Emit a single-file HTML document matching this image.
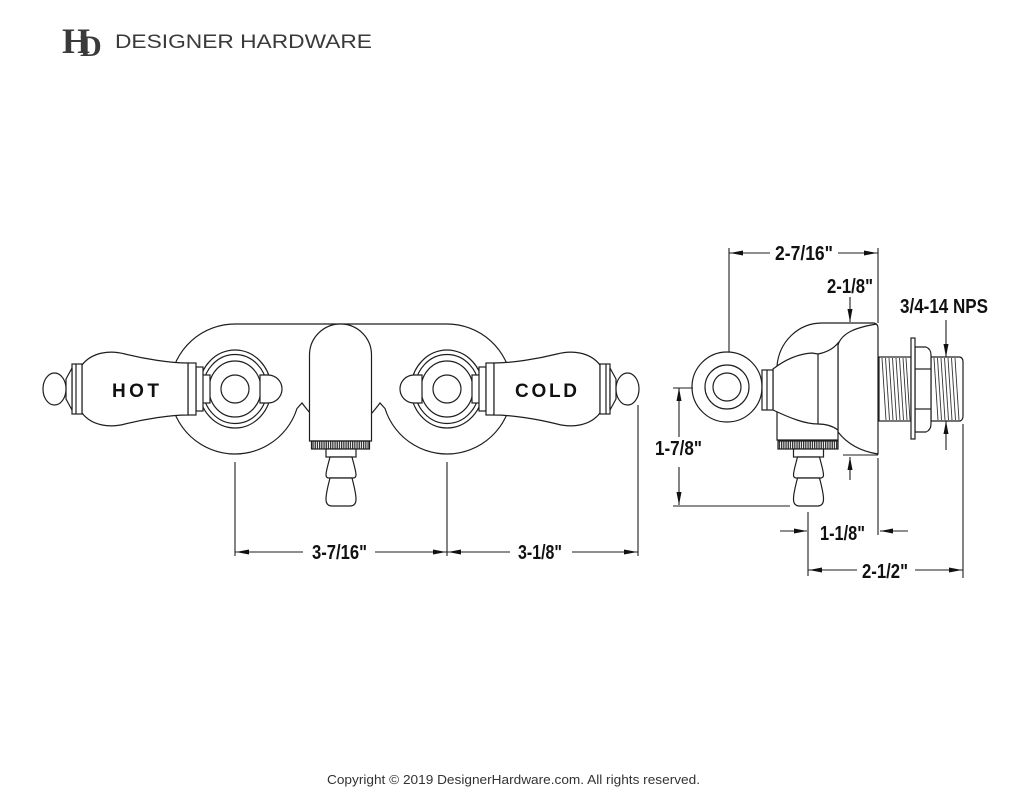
<!DOCTYPE html>
<html><head><meta charset="utf-8"><style>
html,body{margin:0;padding:0;background:#fff;}
svg{display:block;}
</style></head><body>
<svg width="1024" height="791" viewBox="0 0 1024 791" xmlns="http://www.w3.org/2000/svg">
<defs>
<pattern id="kn" width="2.2" height="10" patternUnits="userSpaceOnUse"><rect x="0" y="0" width="1.3" height="10" fill="#333"/></pattern>
<g id="half" stroke="#1e1e1e" stroke-width="1.2" fill="#fff">
  <ellipse cx="235" cy="389" rx="36" ry="39"/>
  <ellipse cx="235" cy="389" rx="32" ry="34.5"/>
  <ellipse cx="235" cy="389" rx="26" ry="28"/>
  <circle cx="235" cy="389" r="14"/>
  <path d="M260 375 L268 375 A14 14 0 0 1 268 403 L260 403 Z"/>
  <rect x="202" y="375" width="8" height="28"/>
  <rect x="196" y="367" width="7" height="44"/>
  <rect x="188" y="363" width="8" height="52"/>
  <path d="M82 365 C92 352 110 350 125 354 C145 359 170 363 188 363 L188 415 C170 415 145 419 125 424 C110 428 92 426 82 413 Z"/>
  <rect x="72" y="364" width="10" height="50"/>
  <line x1="76" y1="364" x2="76" y2="414"/>
  <path d="M66 379 L72 368 L72 410 L66 399 Z"/>
  <ellipse cx="54.5" cy="389" rx="11.5" ry="16"/>
</g>
<g id="barb" stroke="#1e1e1e" stroke-width="1.2" fill="#fff">
  <rect x="326" y="449" width="30" height="8"/>
  <path d="M330 457 L352 457 C354 465 356 471 356 475 Q356 478 353 478 L329 478 Q326 478 326 475 C326 471 328 465 330 457 Z"/>
  <path d="M330 478 L352 478 C354 486 356 493 356 499 Q356 506 350 506 L332 506 Q326 506 326 499 C326 493 328 486 330 478 Z"/>
</g>
</defs>

<!-- Logo -->
<g fill="#3a3a3a">
  <text x="62" y="53" font-family="Liberation Serif, serif" font-weight="bold" font-size="36">H</text>
  <text x="80" y="56" font-family="Liberation Serif, serif" font-weight="bold" font-size="30">D</text>
  <text x="115" y="48" font-family="Liberation Sans, sans-serif" font-size="19.5" textLength="257" lengthAdjust="spacingAndGlyphs">DESIGNER HARDWARE</text>
</g>

<!-- FRONT VIEW -->
<g stroke="#1e1e1e" stroke-width="1.2" fill="#fff">
  <path d="M235 324 L447 324 A65 65 0 1 1 385 408.5 L380 403 Q377 407 372 413 L310 413 Q305 407 302 403 L297 408.5 A65 65 0 1 1 235 324 Z"/>
  <path d="M309.5 441 L309.5 355 A31 31 0 0 1 371.5 355 L371.5 441 Z"/>
  <rect x="311.5" y="441" width="58" height="8" fill="url(#kn)"/>
</g>
<use href="#barb"/>
<use href="#half"/>
<use href="#half" transform="translate(682 0) scale(-1 1)"/>
<g font-family="Liberation Sans, sans-serif" font-weight="bold" fill="#111">
  <text x="112" y="397" font-size="19" textLength="47" lengthAdjust="spacing">HOT</text>
  <text x="515" y="397" font-size="19" textLength="62" lengthAdjust="spacing">COLD</text>
</g>

<!-- front dimension lines -->
<g stroke="#1e1e1e" stroke-width="1.1" fill="none">
  <line x1="235" y1="462" x2="235" y2="556"/>
  <line x1="447" y1="462" x2="447" y2="556"/>
  <line x1="638" y1="405" x2="638" y2="556"/>
  <line x1="235" y1="552" x2="303" y2="552"/>
  <line x1="375" y1="552" x2="447" y2="552"/>
  <line x1="447" y1="552" x2="510" y2="552"/>
  <line x1="572" y1="552" x2="638" y2="552"/>
</g>
<g fill="#111">
  <polygon points="236,552 249,549.5 249,554.5"/>
  <polygon points="446,552 433,549.5 433,554.5"/>
  <polygon points="448,552 461,549.5 461,554.5"/>
  <polygon points="637,552 624,549.5 624,554.5"/>
</g>
<g font-family="Liberation Sans, sans-serif" font-weight="bold" fill="#111" font-size="20">
  <text x="312" y="559" textLength="55" lengthAdjust="spacingAndGlyphs">3-7/16"</text>
  <text x="518" y="559" textLength="44" lengthAdjust="spacingAndGlyphs">3-1/8"</text>
</g>

<!-- SIDE VIEW -->
<g stroke="#1e1e1e" stroke-width="1.2" fill="#fff">
  <path d="M777 440 L777 366 C779 342 798 323 822 323 L874 323 Q878 324 878 328 L878 454 Q852 450 838 432 L838 440 Z"/>
  <path d="M877 324 C858 327 842 332 838 345 L838 432" fill="none"/>
  <path d="M773 369 C782 362 796 354 812 353 L818 354 C828 352 834 348 838 343 L838 430 C834 427 828 424 818 424 C805 424 790 418 773 410 Z"/>
  <line x1="818" y1="354" x2="818" y2="424"/>
  <rect x="778" y="441" width="60" height="8" fill="url(#kn)"/>
  <circle cx="727" cy="387" r="35"/>
  <circle cx="727" cy="387" r="22"/>
  <circle cx="727" cy="387" r="14"/>
  <rect x="762" y="370" width="11" height="40"/>
  <line x1="767" y1="370" x2="767" y2="410"/>
  <!-- pipe -->
  <rect x="879" y="357" width="32" height="64"/>
  <path d="M931 357 L960 357 Q963 358 963 362 L963 416 Q963 420 960 421 L931 421 Z"/>
  <path d="M915 347 L926 347 Q931 349 931 355 L931 424 Q931 430 926 432 L915 432 Z"/>
  <line x1="915" y1="369" x2="931" y2="369"/>
  <line x1="915" y1="409" x2="931" y2="409"/>
  <rect x="911" y="338" width="4" height="101"/>
</g>
<g transform="translate(467.5 0)"><use href="#barb"/></g>
<g stroke="#333" stroke-width="0.9">
  <line x1="882" y1="358" x2="886" y2="420"/>
  <line x1="885.5" y1="358" x2="889.5" y2="420"/>
  <line x1="889" y1="358" x2="893" y2="420"/>
  <line x1="892.5" y1="358" x2="896.5" y2="420"/>
  <line x1="896" y1="358" x2="900" y2="420"/>
  <line x1="899.5" y1="358" x2="903.5" y2="420"/>
  <line x1="903" y1="358" x2="907" y2="420"/>
  <line x1="906" y1="358" x2="910" y2="420"/>
  <line x1="934" y1="358" x2="938" y2="420"/>
  <line x1="937.5" y1="358" x2="941.5" y2="420"/>
  <line x1="941" y1="358" x2="945" y2="420"/>
  <line x1="944.5" y1="358" x2="948.5" y2="420"/>
  <line x1="948" y1="358" x2="952" y2="420"/>
  <line x1="951.5" y1="358" x2="955.5" y2="420"/>
  <line x1="955" y1="358" x2="959" y2="420"/>
</g>

<!-- side dims -->
<g stroke="#1e1e1e" stroke-width="1.1" fill="none">
  <line x1="729" y1="248" x2="729" y2="352"/>
  <line x1="878" y1="248" x2="878" y2="323"/>
  <line x1="878" y1="458" x2="878" y2="535"/>
  <line x1="729" y1="253" x2="770" y2="253"/>
  <line x1="838" y1="253" x2="878" y2="253"/>
  <line x1="850" y1="297" x2="850" y2="322"/>
  <line x1="850" y1="457" x2="850" y2="480"/>
  <line x1="843" y1="455" x2="878" y2="455"/>
  <line x1="946" y1="320" x2="946" y2="357"/>
  <line x1="946" y1="421" x2="946" y2="450"/>
  <line x1="963" y1="424" x2="963" y2="578"/>
  <line x1="679" y1="388" x2="679" y2="437"/>
  <line x1="679" y1="467" x2="679" y2="505"/>
  <line x1="673" y1="388" x2="693" y2="388"/>
  <line x1="673" y1="506" x2="790" y2="506"/>
  <line x1="808" y1="512" x2="808" y2="576"/>
  <line x1="780" y1="531" x2="807" y2="531"/>
  <line x1="880" y1="531" x2="908" y2="531"/>
  <line x1="808" y1="570" x2="857" y2="570"/>
  <line x1="915" y1="570" x2="963" y2="570"/>
</g>
<g fill="#111">
  <polygon points="730,253 743,250.5 743,255.5"/>
  <polygon points="877,253 864,250.5 864,255.5"/>
  <polygon points="850,322 847.5,309 852.5,309"/>
  <polygon points="850,457 847.5,470 852.5,470"/>
  <polygon points="946,357 943.5,344 948.5,344"/>
  <polygon points="946,421 943.5,434 948.5,434"/>
  <polygon points="679,388 676.5,401 681.5,401"/>
  <polygon points="679,505 676.5,492 681.5,492"/>
  <polygon points="807,531 794,528.5 794,533.5"/>
  <polygon points="880,531 893,528.5 893,533.5"/>
  <polygon points="809,570 822,567.5 822,572.5"/>
  <polygon points="962,570 949,567.5 949,572.5"/>
</g>
<g font-family="Liberation Sans, sans-serif" font-weight="bold" fill="#111" font-size="20">
  <text x="775" y="260" textLength="58" lengthAdjust="spacingAndGlyphs">2-7/16"</text>
  <text x="827" y="293" textLength="46" lengthAdjust="spacingAndGlyphs">2-1/8"</text>
  <text x="900" y="313" textLength="88" lengthAdjust="spacingAndGlyphs">3/4-14 NPS</text>
  <text x="655" y="455" textLength="47" lengthAdjust="spacingAndGlyphs">1-7/8"</text>
  <text x="820" y="540" textLength="45" lengthAdjust="spacingAndGlyphs">1-1/8"</text>
  <text x="862" y="578" textLength="46" lengthAdjust="spacingAndGlyphs">2-1/2"</text>
</g>

<!-- copyright -->
<text x="327" y="784" font-family="Liberation Sans, sans-serif" font-size="12.5" fill="#333" textLength="373" lengthAdjust="spacingAndGlyphs">Copyright © 2019 DesignerHardware.com. All rights reserved.</text>
</svg>
</body></html>
